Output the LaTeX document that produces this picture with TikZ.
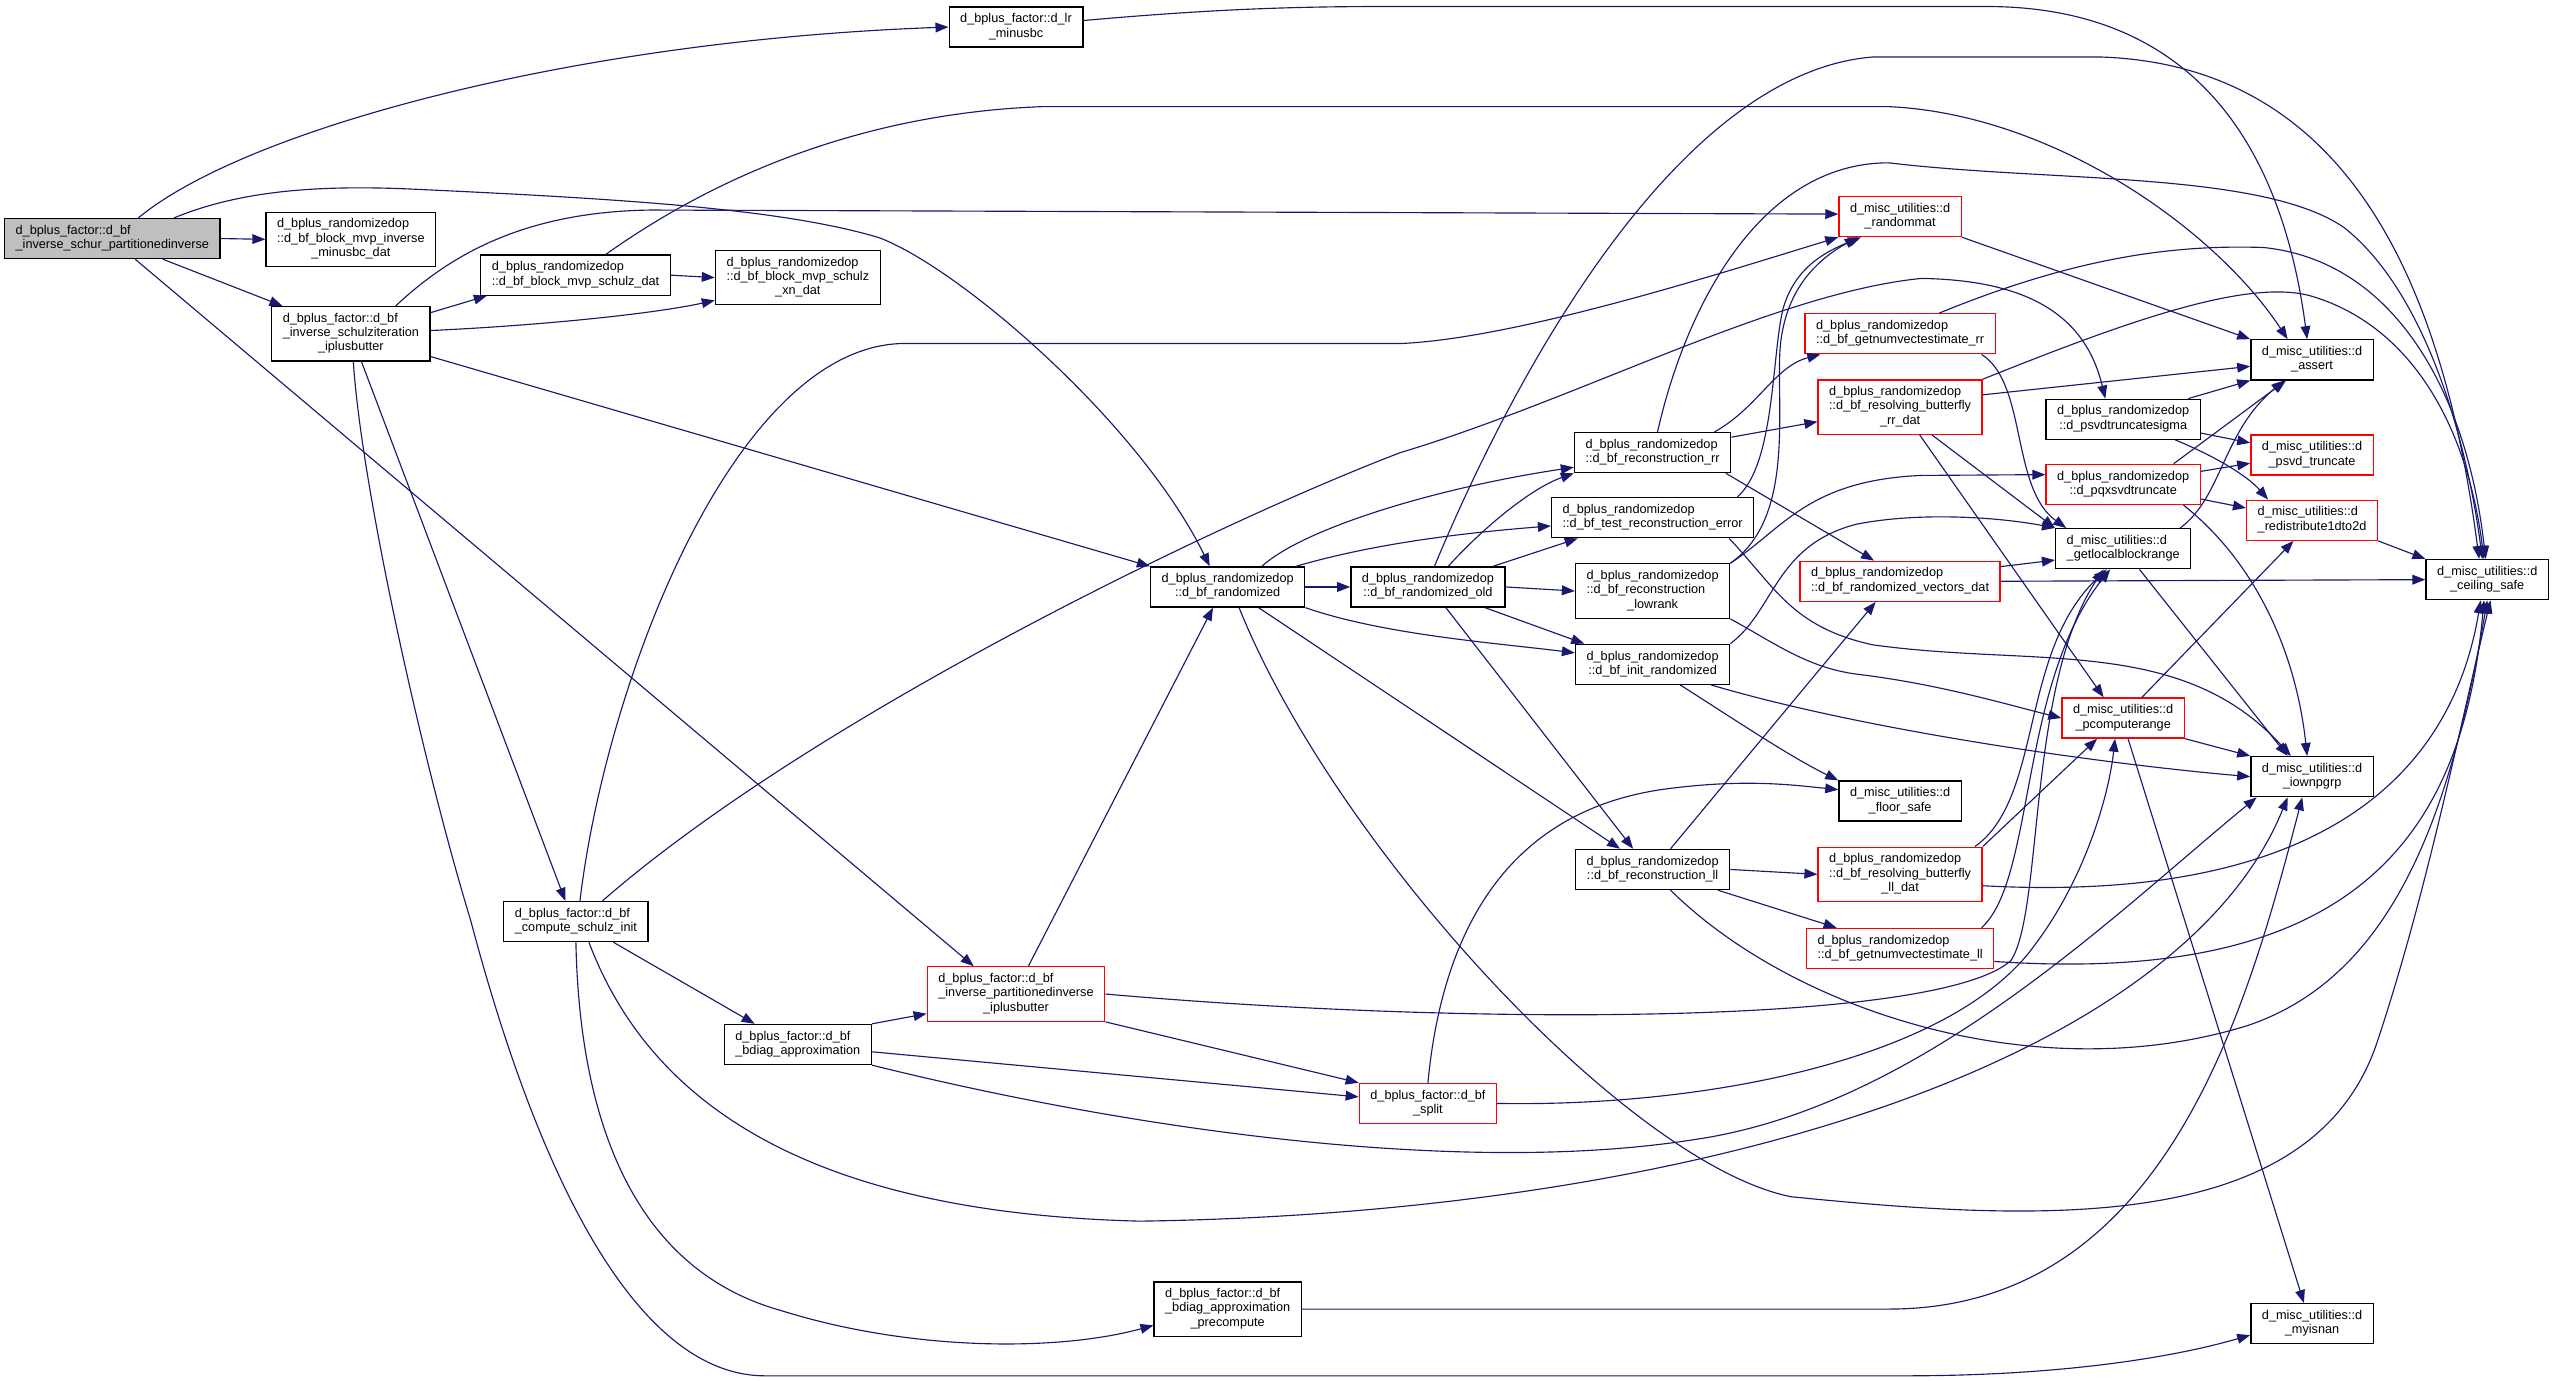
\documentclass[tikz,border=0pt]{standalone}
\usepackage{fontspec}
\setmainfont{Liberation Sans}
\usetikzlibrary{arrows.meta}
\definecolor{callblue}{HTML}{191970}
\definecolor{refred}{HTML}{FF0000}
\definecolor{rootgray}{HTML}{BFBFBF}
\newcommand{\twoline}[2]{\begin{tabular}{@{}l@{}}#1\\\multicolumn{1}{@{}c@{}}{#2}\end{tabular}}
\newcommand{\threeline}[3]{\begin{tabular}{@{}l@{}}#1\\#2\\\multicolumn{1}{@{}c@{}}{#3}\end{tabular}}
\begin{document}
\begin{tikzpicture}[x=1pt,y=-1pt,
    fn/.style = {draw=black, line width=0.8pt, fill=white, inner xsep=6.8pt, inner ysep=3.5pt,
                 font=\fontsize{7.8}{8.8}\selectfont},
    fnred/.style = {fn, draw=refred},
    fnroot/.style = {fn, fill=rootgray},
    call/.style = {draw=callblue, line width=0.7pt, -{Triangle[length=8pt,width=6pt]}}
  ]
  \useasboundingbox (0,0) rectangle (1568,848);

  % functions
  \node[fnroot] (main) at (69,146.5) {\twoline{d\_bplus\_factor::d\_bf}{\_inverse\_schur\_partitionedinverse}};
  \node[fn] (invminusbc) at (215.5,147) {\threeline{d\_bplus\_randomizedop}{::d\_bf\_block\_mvp\_inverse}{\_minusbc\_dat}};
  \node[fn] (schulziter) at (215.5,205) {\threeline{d\_bplus\_factor::d\_bf}{\_inverse\_schulziteration}{\_iplusbutter}};
  \node[fn] (schulzdat) at (353.5,169) {\twoline{d\_bplus\_randomizedop}{::d\_bf\_block\_mvp\_schulz\_dat}};
  \node[fn] (schulzxn) at (490,170.5) {\threeline{d\_bplus\_randomizedop}{::d\_bf\_block\_mvp\_schulz}{\_xn\_dat}};
  \node[fn] (lrminusbc) at (624,16.6) {\twoline{d\_bplus\_factor::d\_lr}{\_minusbc}};
  \node[fn] (randomized) at (754,360.5) {\twoline{d\_bplus\_randomizedop}{::d\_bf\_randomized}};
  \node[fn] (randold) at (877,360.5) {\twoline{d\_bplus\_randomizedop}{::d\_bf\_randomized\_old}};
  \node[fn] (recrr) at (1015,278) {\twoline{d\_bplus\_randomizedop}{::d\_bf\_reconstruction\_rr}};
  \node[fn] (testerr) at (1015,318) {\twoline{d\_bplus\_randomizedop}{::d\_bf\_test\_reconstruction\_error}};
  \node[fn] (lowrank) at (1015,363) {\threeline{d\_bplus\_randomizedop}{::d\_bf\_reconstruction}{\_lowrank}};
  \node[fn] (initrand) at (1015,408) {\twoline{d\_bplus\_randomizedop}{::d\_bf\_init\_randomized}};
  \node[fn] (recll) at (1015,534) {\twoline{d\_bplus\_randomizedop}{::d\_bf\_reconstruction\_ll}};
  \node[fnred] (randommat) at (1167,133) {\twoline{d\_misc\_utilities::d}{\_randommat}};
  \node[fnred] (numvecrr) at (1167,205) {\twoline{d\_bplus\_randomizedop}{::d\_bf\_getnumvectestimate\_rr}};
  \node[fnred] (resolvrr) at (1167,250) {\threeline{d\_bplus\_randomizedop}{::d\_bf\_resolving\_butterfly}{\_rr\_dat}};
  \node[fnred] (vecdat) at (1167,357) {\twoline{d\_bplus\_randomizedop}{::d\_bf\_randomized\_vectors\_dat}};
  \node[fn] (floorsafe) at (1167,492) {\twoline{d\_misc\_utilities::d}{\_floor\_safe}};
  \node[fnred] (resolvll) at (1167,537) {\threeline{d\_bplus\_randomizedop}{::d\_bf\_resolving\_butterfly}{\_ll\_dat}};
  \node[fnred] (numvecll) at (1167,582.5) {\twoline{d\_bplus\_randomizedop}{::d\_bf\_getnumvectestimate\_ll}};
  \node[fn] (sigma) at (1304,257.5) {\twoline{d\_bplus\_randomizedop}{::d\_psvdtruncatesigma}};
  \node[fnred] (pqx) at (1304,297.5) {\twoline{d\_bplus\_randomizedop}{::d\_pqxsvdtruncate}};
  \node[fn] (localrange) at (1304,337) {\twoline{d\_misc\_utilities::d}{\_getlocalblockrange}};
  \node[fnred] (pcompute) at (1304,441) {\twoline{d\_misc\_utilities::d}{\_pcomputerange}};
  \node[fn] (assert) at (1420,221) {\twoline{d\_misc\_utilities::d}{\_assert}};
  \node[fnred] (psvdtrunc) at (1420,279.5) {\twoline{d\_misc\_utilities::d}{\_psvd\_truncate}};
  \node[fnred] (redist) at (1420,319.5) {\twoline{d\_misc\_utilities::d}{\_redistribute1dto2d}};
  \node[fn] (ceiling) at (1527.6,356) {\twoline{d\_misc\_utilities::d}{\_ceiling\_safe}};
  \node[fn] (iownpgrp) at (1420,477) {\twoline{d\_misc\_utilities::d}{\_iownpgrp}};
  \node[fn] (myisnan) at (1420,813) {\twoline{d\_misc\_utilities::d}{\_myisnan}};
  \node[fn] (schulzinit) at (353.7,566) {\twoline{d\_bplus\_factor::d\_bf}{\_compute\_schulz\_init}};
  \node[fn] (bdiag) at (490,641.5) {\twoline{d\_bplus\_factor::d\_bf}{\_bdiag\_approximation}};
  \node[fnred] (partinv) at (624,610.5) {\threeline{d\_bplus\_factor::d\_bf}{\_inverse\_partitionedinverse}{\_iplusbutter}};
  \node[fnred] (split) at (877,677.7) {\twoline{d\_bplus\_factor::d\_bf}{\_split}};
  \node[fn] (precompute) at (754,804) {\threeline{d\_bplus\_factor::d\_bf}{\_bdiag\_approximation}{\_precompute}};

  % calls from the root
  \draw[call] ([xshift=16pt]main.north) .. controls (150,80) and (350,25) .. (lrminusbc.west);
  \draw[call] (main.east) -- (invminusbc.west);
  \draw[call] ([xshift=31pt]main.south) -- ([xshift=-42pt]schulziter.north);
  \draw[call] ([xshift=38pt]main.north) .. controls (150,116) and (200,114) .. (250,116)
              .. controls (380,122) and (480,128) .. (540,146) .. controls (590,165) and (700,260) .. ([xshift=-11pt]randomized.north);
  \draw[call] ([xshift=14pt]main.south) -- ([xshift=-26pt]partinv.north);

  % schulz iteration
  \draw[call] ([yshift=13pt]schulziter.east) -- ([xshift=-54.5pt]schulzdat.south);
  \draw[call] (schulzdat.east) -- (schulzxn.west);
  \draw[call] ([yshift=2pt]schulziter.east) .. controls (330,200) and (400,193) .. ([yshift=-14pt]schulzxn.west);
  \draw[call] ([xshift=27.5pt]schulziter.north) .. controls (275,158) and (320,130) .. (400,129) -- ([yshift=1.5pt]randommat.west);
  \draw[call] ([xshift=18.5pt]schulzdat.north) .. controls (430,115) and (520,70) .. (640,65.5) -- (1160,65.5)
              .. controls (1260,70) and (1360,140) .. ([xshift=-15pt]assert.north);
  \draw[call] ([yshift=4pt]lrminusbc.east) .. controls (740,6) and (790,4) .. (850,4) -- (1220,4)
              .. controls (1340,4) and (1400,80) .. ([xshift=-3pt]assert.north);
  \draw[call] (randommat.south east) -- (assert.north west);
  \draw[call] ([yshift=-14pt]schulziter.east) -- (randomized.north west);
  \draw[call] ([xshift=6.5pt]schulziter.south) -- ([xshift=-6.5pt]schulzinit.north);
  \draw[call] ([xshift=1.5pt]schulziter.south) .. controls (222,300) and (260,470) .. (289,565)
              .. controls (330,720) and (390,845) .. (470,845) -- (1170,845)
              .. controls (1260,845) and (1330,835) .. ([yshift=-7pt]myisnan.west);

  % compute_schulz_init
  \draw[call] ([xshift=2.5pt]schulzinit.north) .. controls (372,420) and (450,215) .. (553,211) -- (860,211)
              .. controls (930,208) and (1050,170) .. (randommat.south west);
  \draw[call] ([xshift=16.3pt]schulzinit.north) .. controls (500,440) and (750,320) .. (860,278)
              .. controls (970,245) and (1090,180) .. (1180,171) .. controls (1240,172) and (1280,190) .. ([xshift=-11pt]sigma.north);
  \draw[call] ([xshift=23pt]schulzinit.south) -- ([xshift=-26.5pt]bdiag.north);
  \draw[call] (schulzinit.south) .. controls (356,690) and (390,780) .. (480,805)
              .. controls (560,830) and (650,830) .. ([yshift=-10pt]precompute.west);
  \draw[call] ([xshift=8pt]schulzinit.south) .. controls (400,680) and (500,745) .. (700,750)
              .. controls (1050,745) and (1340,650) .. ([xshift=-15pt]iownpgrp.south);

  % block diagonal part
  \draw[call] (bdiag.north east) -- ([yshift=5pt]partinv.south west);
  \draw[call] ([yshift=-4.5pt]bdiag.east) -- ([yshift=4pt]split.west);
  \draw[call] (bdiag.south east) .. controls (700,695) and (900,722) .. (1040,700)
              .. controls (1180,680) and (1300,560) .. ([xshift=-34pt]iownpgrp.south);
  \draw[call] (partinv.south east) -- (split.north west);
  \draw[call] ([xshift=7.6pt]partinv.north) -- ([xshift=-9pt]randomized.south);
  \draw[call] (partinv.east) .. controls (900,630) and (1190,630) .. (1235,590)
              .. controls (1255,560) and (1245,420) .. ([xshift=-12pt]localrange.south);
  \draw[call] (split.north) .. controls (885,580) and (920,500) .. (1020,485)
              .. controls (1070,478) and (1100,482) .. ([yshift=7pt]floorsafe.west);
  \draw[call] (split.east) .. controls (1050,680) and (1200,650) .. (1250,580)
              .. controls (1280,540) and (1295,490) .. ([xshift=-5pt]pcompute.south);
  \draw[call] (precompute.east) -- (1160,804) .. controls (1330,804) and (1380,620) .. ([xshift=-6pt]iownpgrp.south);

  % randomized
  \draw[call] (randomized.east) -- (randold.west);
  \draw[call] ([xshift=21pt]randomized.north) .. controls (800,325) and (880,300) .. ([yshift=-9pt]recrr.west);
  \draw[call] ([xshift=42pt]randomized.north) .. controls (840,335) and (890,328) .. ([yshift=-5pt]testerr.west);
  \draw[call] (randomized.south east) .. controls (850,390) and (920,395) .. ([yshift=7pt]initrand.west);
  \draw[call] ([xshift=19pt]randomized.south) -- ([xshift=-20pt]recll.north);
  \draw[call] ([xshift=7pt]randomized.south) .. controls (820,520) and (1000,715) .. (1100,735)
              .. controls (1250,750) and (1420,760) .. (1460,640) .. controls (1490,550) and (1510,450) .. ([xshift=2pt]ceiling.south);

  \draw[call] ([xshift=12.5pt]randold.north) .. controls (910,325) and (940,300) .. (recrr.south west);
  \draw[call] ([xshift=40pt]randold.north) -- ([xshift=-46pt]testerr.south);
  \draw[call] (randold.east) -- (lowrank.west);
  \draw[call] ([xshift=35pt]randold.south) -- ([xshift=-42pt]initrand.north);
  \draw[call] ([xshift=11pt]randold.south) -- ([xshift=-12pt]recll.north);
  \draw[call] ([xshift=4pt]randold.north) .. controls (930,230) and (1030,45) .. (1150,35) -- (1290,35)
              .. controls (1440,40) and (1500,170) .. ([xshift=-5pt]ceiling.north);

  \draw[call] ([xshift=38pt]recrr.north) .. controls (1080,250) and (1090,225) .. ([xshift=-49pt]numvecrr.south);
  \draw[call] ([yshift=9.5pt]recrr.east) -- ([yshift=-9pt]resolvrr.west);
  \draw[call] ([xshift=45pt]recrr.south) -- ([xshift=-16pt]vecdat.north);
  \draw[call] ([xshift=3pt]recrr.north) .. controls (1035,190) and (1080,100) .. (1160,100)
              .. controls (1260,112) and (1390,105) .. (1440,140) .. controls (1490,180) and (1515,270) .. ([xshift=-3pt]ceiling.north);

  \draw[call] ([xshift=52pt]testerr.north) .. controls (1090,285) and (1088,220) .. (1095,190)
              .. controls (1102,165) and (1120,155) .. ([xshift=-24pt]randommat.south);
  \draw[call] ([xshift=47pt]testerr.south) .. controls (1090,360) and (1100,385) .. (1150,396)
              .. controls (1250,410) and (1340,390) .. ([xshift=-13pt]iownpgrp.north);

  \draw[call] (lowrank.north east) .. controls (1100,320) and (1092,260) .. (1093,220)
              .. controls (1094,180) and (1115,160) .. ([xshift=-26pt]randommat.south);
  \draw[call] (lowrank.north east) .. controls (1095,325) and (1110,295) .. (1180,292) -- ([yshift=6pt]pqx.west);
  \draw[call] (lowrank.south east) .. controls (1090,395) and (1110,410) .. (1140,414)
              .. controls (1190,420) and (1230,432) .. (pcompute.west);

  \draw[call] (initrand.north east) .. controls (1090,375) and (1090,335) .. (1140,322)
              .. controls (1180,314) and (1230,318) .. (localrange.north west);
  \draw[call] ([xshift=36pt]initrand.south) .. controls (1150,450) and (1300,470) .. (iownpgrp.west);
  \draw[call] ([xshift=17pt]initrand.south) .. controls (1070,445) and (1100,465) .. (floorsafe.north west);

  \draw[call] (recll.east) -- (resolvll.west);
  \draw[call] ([xshift=40pt]recll.south) -- ([xshift=-39pt]numvecll.north);
  \draw[call] ([xshift=11pt]recll.north) -- ([xshift=-15pt]vecdat.south);
  \draw[call] ([xshift=11pt]recll.south) .. controls (1100,620) and (1250,670) .. (1380,630)
              .. controls (1470,600) and (1505,500) .. (ceiling.south);

  % butterfly helpers
  \draw[call] ([xshift=50pt]numvecrr.south) .. controls (1245,235) and (1235,300) .. ([xshift=-35pt]localrange.north);
  \draw[call] ([xshift=24pt]numvecrr.north) .. controls (1270,160) and (1330,150) .. (1390,152)
              .. controls (1470,160) and (1515,240) .. ([xshift=-1pt]ceiling.north);
  \draw[call] ([yshift=7.5pt]resolvrr.east) -- ([yshift=-4pt]assert.west);
  \draw[call] ([xshift=19.5pt]resolvrr.south) -- (localrange.north west);
  \draw[call] ([xshift=12pt]resolvrr.south) -- ([xshift=-12pt]pcompute.north);
  \draw[call] (resolvrr.north east) .. controls (1300,200) and (1380,170) .. (1420,182)
              .. controls (1480,200) and (1515,260) .. ([xshift=-2pt]ceiling.north);
  \draw[call] ([yshift=9pt]vecdat.east) -- ([yshift=-7pt]localrange.west);
  \draw[call] (vecdat.east) -- (ceiling.west);
  \draw[call] (resolvll.north east) -- ([xshift=-16pt]pcompute.south);
  \draw[call] ([xshift=46pt]resolvll.north) .. controls (1255,490) and (1240,400) .. ([xshift=-10pt]localrange.south);
  \draw[call] ([yshift=-7pt]resolvll.east) .. controls (1420,555) and (1505,480) .. ([xshift=-4pt]ceiling.south);
  \draw[call] ([xshift=50pt]numvecll.north) .. controls (1250,540) and (1240,420) .. ([xshift=-8pt]localrange.south);
  \draw[call] ([yshift=-8pt]numvecll.east) .. controls (1440,605) and (1512,520) .. ([xshift=-2pt]ceiling.south);

  % utilities
  \draw[call] ([xshift=40pt]sigma.north) -- (assert.south west);
  \draw[call] ([yshift=-8.5pt]sigma.east) -- ([yshift=7.5pt]psvdtrunc.west);
  \draw[call] ([xshift=32pt]sigma.south) .. controls (1360,280) and (1380,292) .. ([xshift=-27pt]redist.north);
  \draw[call] ([xshift=31pt]pqx.north) -- ([xshift=-16pt]assert.south);
  \draw[call] ([yshift=8pt]pqx.east) -- ([yshift=-5pt]psvdtrunc.west);
  \draw[call] ([yshift=-9pt]pqx.east) -- ([yshift=7.5pt]redist.west);
  \draw[call] ([xshift=37pt]pqx.south) .. controls (1385,345) and (1410,400) .. ([xshift=-3pt]iownpgrp.north);
  \draw[call] ([xshift=35pt]localrange.north) .. controls (1365,305) and (1365,265) .. ([xshift=-17pt]assert.south);
  \draw[call] ([xshift=10pt]localrange.south) -- ([xshift=-15pt]iownpgrp.north);
  \draw[call] ([xshift=11.5pt]pcompute.north) -- ([xshift=-11.4pt]redist.south);
  \draw[call] (pcompute.south east) -- (iownpgrp.north west);
  \draw[call] ([xshift=3pt]pcompute.south) -- ([xshift=-5pt]myisnan.north);
  \draw[call] (redist.south east) -- (ceiling.north west);
\end{tikzpicture}
\end{document}
